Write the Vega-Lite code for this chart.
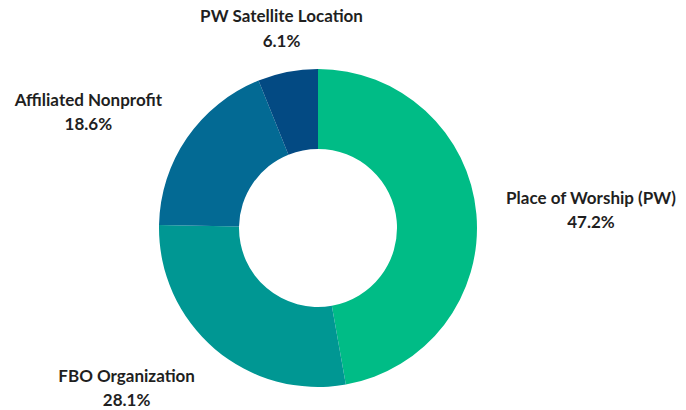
{
  "$schema": "https://vega.github.io/schema/vega-lite/v6.json",
  "width": 636,
  "height": 456,
  "autosize": {"type": "none"},
  "padding": {"left": 0, "top": 0, "right": 50, "bottom": 0},
  "background": "white",
  "config": {"view": {"stroke": null}},
  "data": {
    "values": [
      {"cat": "Place of Worship (PW)", "value": 47.2, "label": "Place of Worship (PW)\n47.2%", "order": 1},
      {"cat": "FBO Organization", "value": 28.1, "label": "FBO Organization\n28.1%", "order": 2},
      {"cat": "Affiliated Nonprofit", "value": 18.6, "label": "Affiliated Nonprofit\n18.6%", "order": 3},
      {"cat": "PW Satellite Location", "value": 6.1, "label": "PW Satellite Location\n6.1%", "order": 4}
    ]
  },
  "encoding": {
    "theta": {"field": "value", "type": "quantitative", "stack": true},
    "order": {"field": "order", "type": "quantitative", "sort": "ascending"},
    "detail": {"field": "cat", "type": "nominal"}
  },
  "layer": [
    {
      "mark": {"type": "arc", "innerRadius": 79, "outerRadius": 159, "strokeWidth": 0},
      "encoding": {
        "color": {
          "field": "cat",
          "type": "nominal",
          "scale": {
            "domain": ["Place of Worship (PW)", "FBO Organization", "Affiliated Nonprofit", "PW Satellite Location"],
            "range": ["#00bc86", "#009793", "#036a94", "#034a83"]
          },
          "legend": null
        }
      }
    },
    {
      "mark": {"type": "text", "radius": 272, "dx": 2, "dy": -5, "font": "Lato", "fontWeight": "bold", "fontSize": 17, "lineBreak": "\n", "lineHeight": 24, "color": "#1f1f1f", "align": "center", "baseline": "middle"},
      "encoding": {"text": {"condition": {"test": "datum.cat === 'Place of Worship (PW)'", "field": "label", "type": "nominal"}, "value": ""}}
    },
    {
      "mark": {"type": "text", "radius": 257, "dx": -18, "dy": 19, "font": "Lato", "fontWeight": "bold", "fontSize": 17, "lineBreak": "\n", "lineHeight": 24, "color": "#1f1f1f", "align": "center", "baseline": "middle"},
      "encoding": {"text": {"condition": {"test": "datum.cat === 'Affiliated Nonprofit'", "field": "label", "type": "nominal"}, "value": ""}}
    },
    {
      "mark": {"type": "text", "radius": 250, "dx": -29, "dy": -41, "font": "Lato", "fontWeight": "bold", "fontSize": 17, "lineBreak": "\n", "lineHeight": 24, "color": "#1f1f1f", "align": "center", "baseline": "middle"},
      "encoding": {"text": {"condition": {"test": "datum.cat === 'FBO Organization'", "field": "label", "type": "nominal"}, "value": ""}}
    },
    {
      "mark": {"type": "text", "radius": 202, "dx": 2, "dy": -13, "font": "Lato", "fontWeight": "bold", "fontSize": 17, "lineBreak": "\n", "lineHeight": 25, "color": "#1f1f1f", "align": "center", "baseline": "middle"},
      "encoding": {"text": {"condition": {"test": "datum.cat === 'PW Satellite Location'", "field": "label", "type": "nominal"}, "value": ""}}
    }
  ]
}
